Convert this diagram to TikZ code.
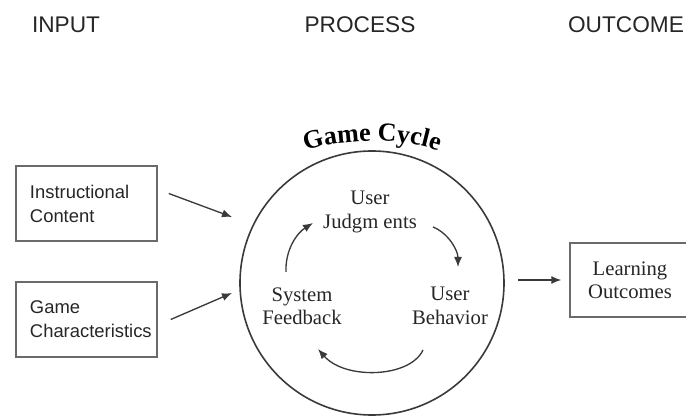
\documentclass[tikz,border=0pt]{standalone}
\usepackage{fontspec}
\setmainfont{Liberation Serif}
\newfontfamily\hdsans{Liberation Sans}
\usetikzlibrary{arrows.meta,decorations.text}

\definecolor{linegray}{HTML}{3A3A3A}
\definecolor{boxgray}{HTML}{6A6A6A}
\definecolor{txtgray}{HTML}{262626}

\newcommand{\gcfont}{\bfseries\fontsize{19.5}{22}\selectfont}

\tikzset{
  headtext/.style={anchor=base, inner sep=0pt, text=txtgray, font=\hdsans\fontsize{17}{20}\selectfont},
  inbox/.style={draw=boxgray, line width=1.1pt, minimum width=105.75pt, minimum height=56.25pt, inner xsep=10.5pt, text width=84.75pt, align=left, text=txtgray, font=\hdsans\fontsize{13.8}{18}\selectfont},
  outbox/.style={draw=boxgray, line width=1.1pt, minimum width=90pt, minimum height=55.5pt, align=center, text=txtgray, font=\fontsize{15.5}{17.5}\selectfont},
  stage/.style={align=center, inner sep=1pt, text=txtgray, font=\fontsize{15.5}{17.5}\selectfont},
  arr/.style={-{Latex[length=7.5pt,width=6pt]}, line width=1pt, draw=linegray},
}

\begin{document}
\begin{tikzpicture}[x=0.75pt,y=0.75pt,yscale=-1,xscale=1]
\clip (0,0) rectangle (686,416);

% Header Nodes
\node[headtext] (hin) at (66,33) {INPUT};
\node[headtext] (hpr) at (360,33) {PROCESS};
\node[headtext] (hout) at (626,33) {OUTCOME};

%Shape: Input Boxes
\node[inbox] (ic) at (86.5,203.5) {Instructional\\Content};
\node[inbox] (gc) at (86.5,319.5) {Game\\Characteristics};

%Shape: Circle
\node[draw=linegray, line width=1.2pt, circle, minimum size=198pt, inner sep=0pt] (cyc) at (372,283) {};

% Curved Title
\path[decorate, decoration={text along path, text align=center, text={|\gcfont|Game Cycle}}]
  (288,162) .. controls (315,134) and (429,134) .. (456,162);

% Text Node
\node[stage] (uj) at (370,212) {User\\Judgm ents};
\node[stage] (fb) at (302,306) {System\\Feedback};
\node[stage] (ub) at (450,306) {User\\Behavior};

%Shape: Outcome Box
\node[outbox] (lo) at (630,280) {Learning\\Outcomes};

%Straight Lines
\coordinate (icto) at (232,217);
\coordinate (gcto) at (232,293);
\draw[arr] ([shift={(11,-10)}]ic.east) -- (icto);
\draw[arr] ([shift={(13,0)}]gc.east) -- (gcto);
\draw[arr, shorten <=10pt, shorten >=6pt] (cyc.east |- lo.west) -- (lo.west);

%Curve Lines
\draw[arr] ([shift={(-16,-34)}]fb.center) .. controls (285,250) and (297,233) .. ([shift={(-57,11)}]uj.center);
\draw[arr] ([shift={(63,15)}]uj.center) .. controls (448,233) and (458,250) .. ([shift={(8,-39)}]ub.center);
\draw[arr] ([shift={(-27,44)}]ub.center) .. controls (410,378) and (345,380) .. ([shift={(16,43)}]fb.center);

\end{tikzpicture}
\end{document}
